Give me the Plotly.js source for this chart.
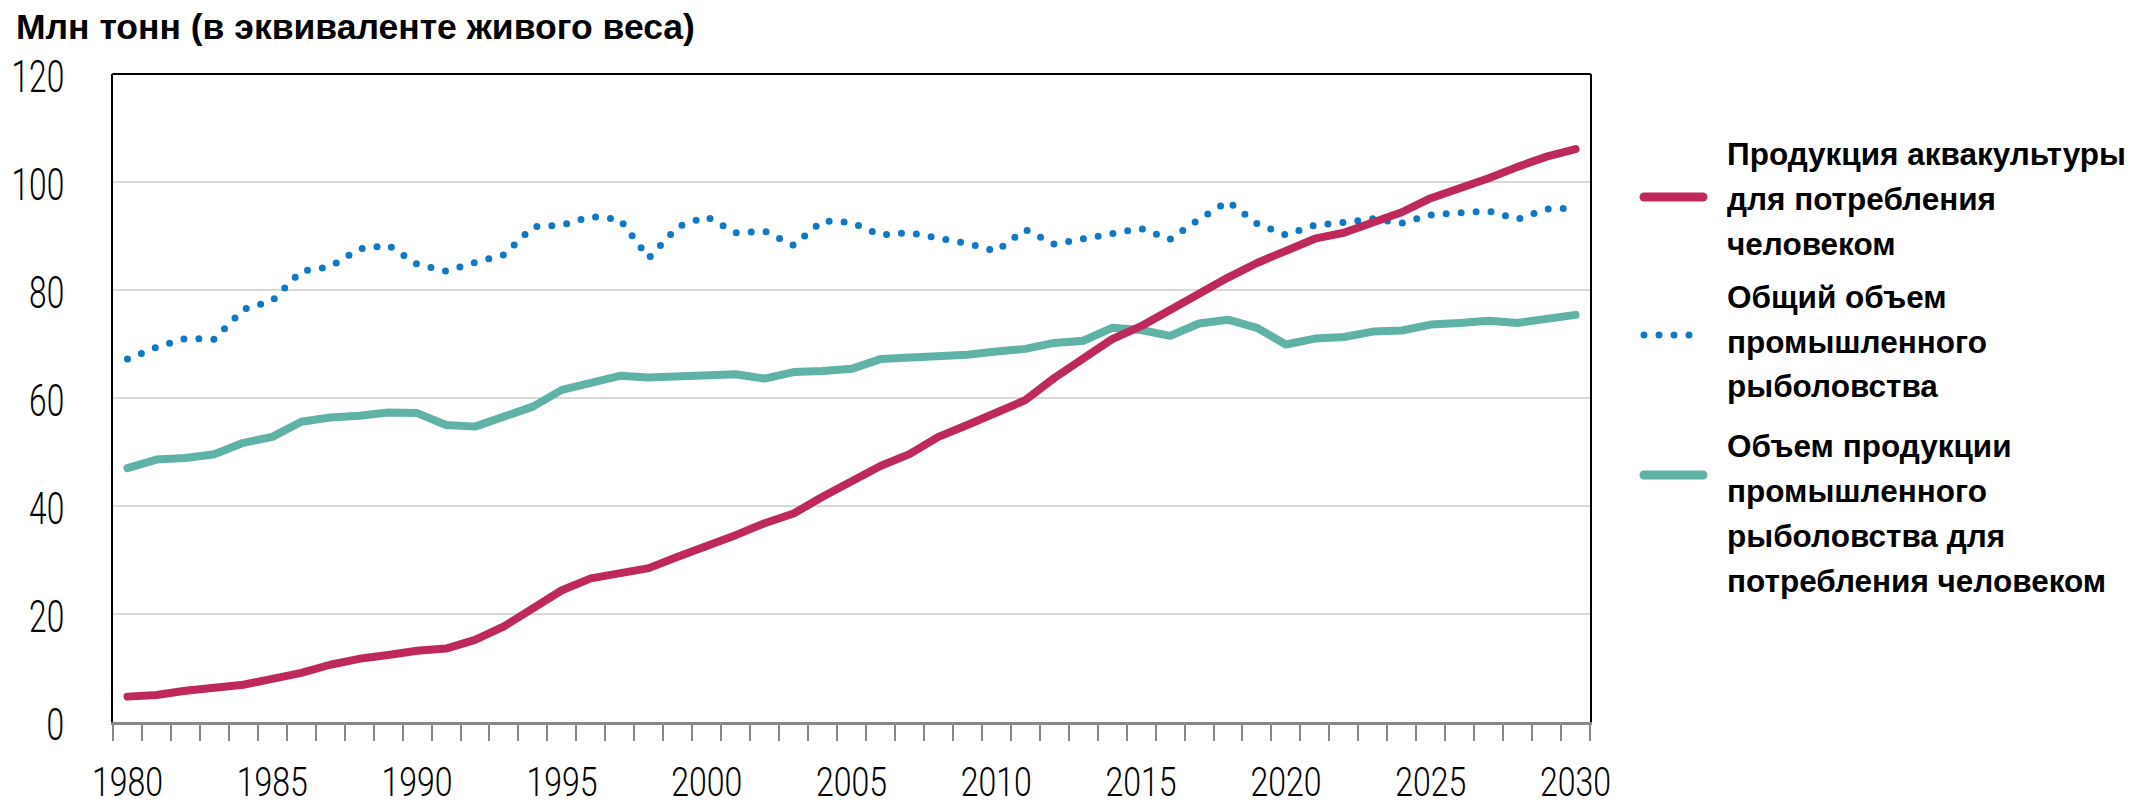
<!DOCTYPE html>
<html>
<head>
<meta charset="utf-8">
<script src="https://cdn.plot.ly/plotly-3.0.1.min.js"></script>
<style>
  html, body { margin: 0; padding: 0; background: #ffffff; }
  #chart { width: 2152px; height: 809px; }
  .scatterlayer .js-line { stroke-linecap: round; stroke-linejoin: round; }
  .shapelayer path { stroke-linecap: round; }
</style>
</head>
<body>
<div id="chart"></div>
<script>
// ---- data ----
const years = [];
for (let y = 1980; y <= 2030; y++) years.push(y);

const aquaculture = [4.7,5.0,5.8,6.2,6.9,8.0,9.1,10.6,11.7,12.4,
  13.2,13.6,15.2,17.7,21.0,24.4,26.6,27.4,28.5,30.6,
  32.5,34.6,36.8,38.6,41.7,44.5,47.4,49.6,52.8,55.0,
  57.5,59.6,63.7,67.1,70.9,73.3,76.4,79.3,82.3,85.0,
  87.1,89.5,90.6,92.6,94.4,97.0,98.8,100.7,102.8,104.7,106.1];

const captureTotal = [67.2,69.4,71.0,70.9,76.4,78.0,83.5,84.3,87.6,88.3,
  84.8,83.5,85.1,86.5,91.7,92.0,93.6,93.1,85.9,91.7,
  93.6,90.6,90.9,88.3,92.8,92.5,90.2,90.6,89.6,88.6,
  87.2,91.2,88.5,89.5,90.2,91.4,89.4,93.1,96.4,92.3,
  90.2,92.0,92.5,93.2,92.4,93.9,94.3,94.6,93.1,95.0,95.2];

const captureFood = [47.0,48.6,48.9,49.6,51.7,52.8,55.6,56.4,56.7,57.3,
  57.2,55.0,54.7,56.5,58.4,61.5,62.8,64.1,63.8,63.9,
  64.2,64.4,63.6,64.8,65.0,65.4,67.2,67.4,67.7,68.0,
  68.6,69.1,70.2,70.6,73.0,72.6,71.5,73.8,74.5,73.0,
  69.9,71.0,71.3,72.3,72.5,73.6,73.9,74.3,73.9,74.6,75.4];

const xTickVals = [1980,1985,1990,1995,2000,2005,2010,2015,2020,2025,2030];
const yTickVals = [0,20,40,60,80,100,120];

const titleText = "Млн тонн (в эквиваленте живого веса)";
const legendAqua = ["Продукция аквакультуры", "для потребления", "человеком"];
const legendTotal = ["Общий объем", "промышленного", "рыболовства"];
const legendFood = ["Объем продукции", "промышленного", "рыболовства для", "потребления человеком"];

// ---- styles ----
const RED = "#BF285A";
const BLUE = "#0F79C6";
const TEAL = "#5FB2A6";
const DOTS = "0px,15px";
const xTickFont = { family: "Roboto, 'Liberation Sans', sans-serif", size: 40, color: "#000", weight: 300 };
const yTickFont = { family: "Roboto, 'Liberation Sans', sans-serif", size: 44, color: "#000", weight: 300 };
const legendFont = { family: "'Liberation Sans', Arial, sans-serif", size: 31.5, color: "#000", weight: 700 };

// layout geometry (pixels)
const W = 2152, H = 809;
const L = 113, R = 1590, T = 74, B = 722;
const px = x => (x - L) / (R - L);
const py = y => (B - y) / (B - T);

const traces = [
  { x: years, y: captureTotal, type: "scatter", mode: "lines", name: legendTotal.join(" "),
    line: { color: BLUE, width: 7, dash: DOTS } },
  { x: years, y: captureFood, type: "scatter", mode: "lines", name: legendFood.join(" "),
    line: { color: TEAL, width: 8 } },
  { x: years, y: aquaculture, type: "scatter", mode: "lines", name: legendAqua.join(" "),
    line: { color: RED, width: 8 } }
];

// custom legend
const legendEntries = [
  { lines: legendAqua, centers: [154, 199, 244], sym: 197, color: RED, dash: "solid" },
  { lines: legendTotal, centers: [297, 342, 386], sym: 335, color: BLUE, dash: DOTS },
  { lines: legendFood, centers: [446, 491, 536, 581], sym: 475, color: TEAL, dash: "solid" }
];
const annotations = [];
const shapes = [
  { type: "line", xref: "paper", yref: "paper", x0: 0, x1: 1, y0: 1, y1: 1,
    line: { color: "#000", width: 2 }, layer: "above" }
];
legendEntries.forEach(e => {
  e.lines.forEach((t, i) => {
    annotations.push({ text: t, xref: "paper", yref: "paper", x: px(1725), y: py(e.centers[i]),
      xanchor: "left", yanchor: "middle", showarrow: false, font: legendFont, align: "left" });
  });
  shapes.push({ type: "line", xref: "paper", yref: "paper", x0: px(1644), x1: px(1703),
    y0: py(e.sym), y1: py(e.sym), line: { color: e.color, width: e.dash === "solid" ? 9 : 7, dash: e.dash } });
});

const layout = {
  width: W, height: H,
  margin: { l: L, r: W - R, t: T, b: H - B, pad: 0 },
  paper_bgcolor: "#fff", plot_bgcolor: "#fff",
  showlegend: false,
  title: { text: titleText, xref: "container", yref: "container", x: 16 / W, xanchor: "left",
    y: 1 - 27 / H, yanchor: "middle",
    font: { family: "'Liberation Sans', Arial, sans-serif", size: 35.5, color: "#000", weight: 700 } },
  xaxis: {
    range: [1979.5, 2030.5], tickvals: xTickVals, ticktext: xTickVals.map(String),
    ticks: "outside", ticklen: 23, tickcolor: "rgba(0,0,0,0)",
    showline: true, linecolor: "#888", linewidth: 3, showgrid: false, zeroline: false,
    tickfont: xTickFont, fixedrange: true,
    minor: { tick0: 1979.5, dtick: 1, ticks: "outside", ticklen: 16, tickcolor: "#888", tickwidth: 2, showgrid: false }
  },
  yaxis: {
    range: [0, 120], tickvals: yTickVals, ticktext: yTickVals.map(String),
    ticks: "outside", ticklen: 38, tickcolor: "rgba(0,0,0,0)",
    showline: true, linecolor: "#000", linewidth: 2, mirror: true,
    showgrid: true, gridcolor: "#d9d9d9", gridwidth: 2, zeroline: false,
    tickfont: yTickFont, fixedrange: true, ticklabelshift: 3
  },
  annotations: annotations,
  shapes: shapes
};

function condense(selector, factor) {
  document.querySelectorAll(selector).forEach(t => {
    const len = t.getComputedTextLength();
    if (len > 0) {
      t.setAttribute("textLength", (len * factor).toFixed(1));
      t.setAttribute("lengthAdjust", "spacingAndGlyphs");
    }
  });
}

Plotly.newPlot("chart", traces, layout, { displayModeBar: false, staticPlot: true }).then(() => {
  condense("#chart .xtick text", 0.8);
  condense("#chart .ytick text", 0.72);
});
</script>
</body>
</html>
